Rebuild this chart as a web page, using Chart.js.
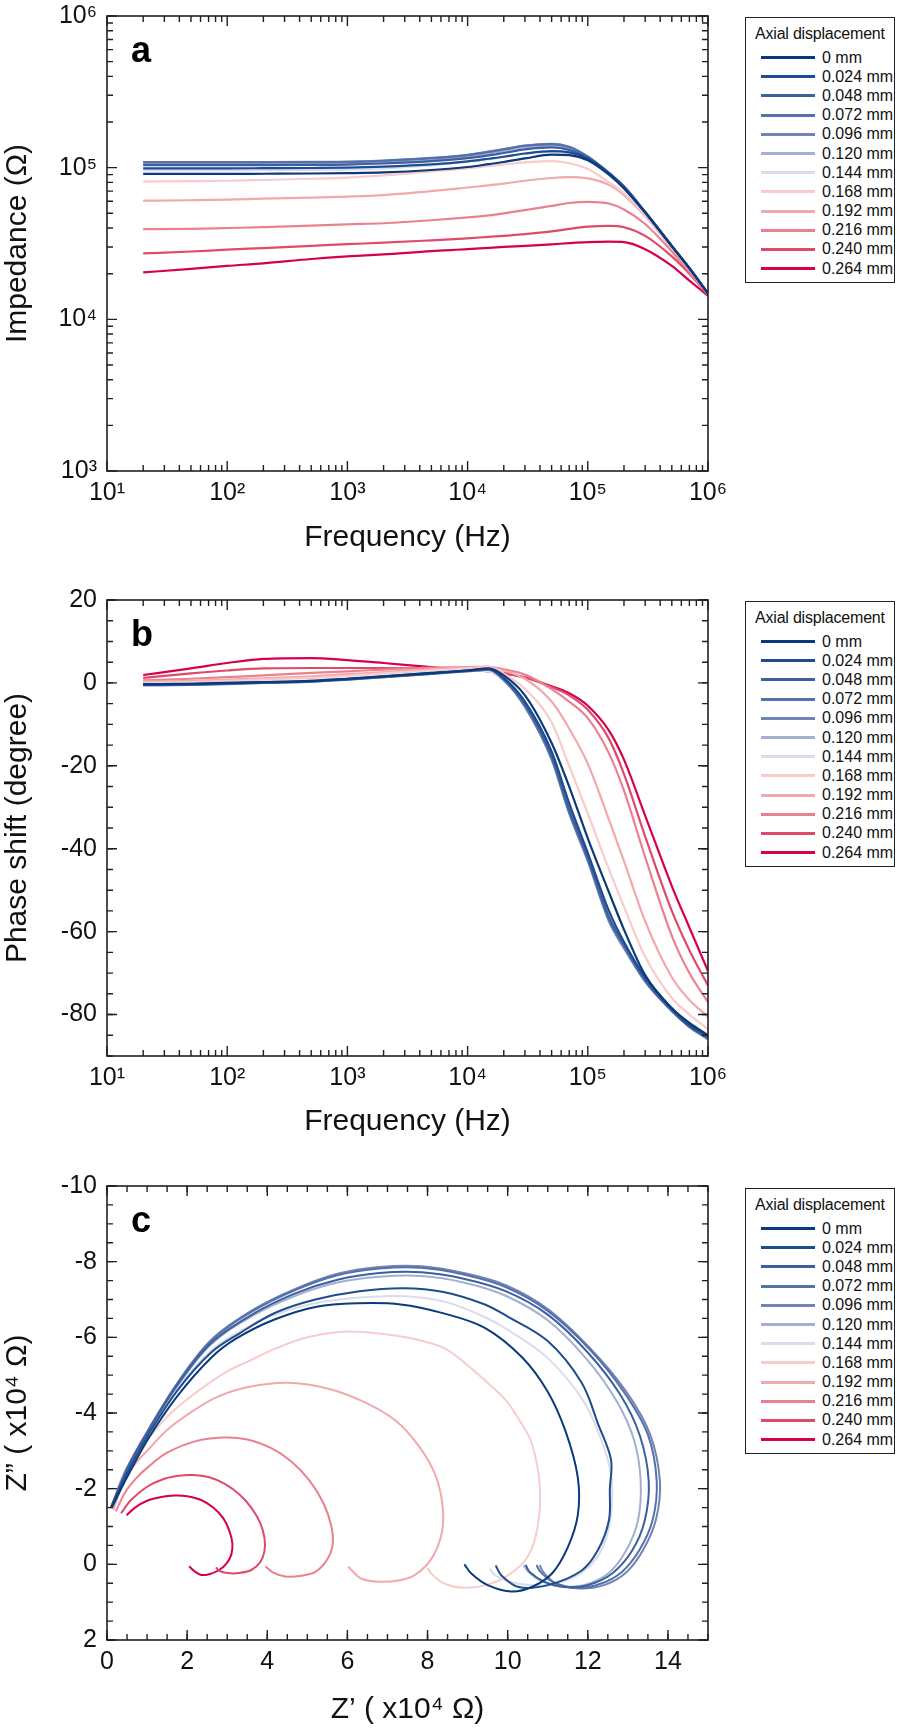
<!DOCTYPE html>
<html>
<head>
<meta charset="utf-8">
<script src="https://cdn.jsdelivr.net/npm/chart.js@4.4.1/dist/chart.umd.min.js"></script>
<style>
  body { margin: 0; background: #fff; font-family: "Liberation Sans", Arial, sans-serif; }
  #page { position: relative; width: 898px; height: 1728px; overflow: hidden; background: #fff; }
  .panel { position: absolute; left: 0; }
  .legend { position: absolute; left: 745px; width: 150px; height: 266px; border: 1px solid #231f20;
            box-sizing: border-box; font-size: 16px; color: #111; background: #fff; }
  .legend .ttl { margin: 7px 0 5px 9px; line-height: 18px; white-space: nowrap; letter-spacing: -0.2px; }
  .legend .row { height: 19.2px; display: flex; align-items: center; padding-left: 15px; white-space: nowrap; }
  .legend .sw { width: 54px; height: 3px; margin-right: 7px; flex: none; }
</style>
</head>
<body>
<div id="page">
  <canvas id="chartA" class="panel" style="top:0px" width="740" height="560"></canvas>
  <canvas id="chartB" class="panel" style="top:584px" width="740" height="560"></canvas>
  <canvas id="chartC" class="panel" style="top:1170px" width="740" height="558"></canvas>
  <div class="legend" id="legendA" style="top:17px"></div>
  <div class="legend" id="legendB" style="top:601px"></div>
  <div class="legend" id="legendC" style="top:1188px"></div>
</div>
<script>
document.addEventListener('DOMContentLoaded', () => {

    // --- data ---
    const labels = ['0 mm', '0.024 mm', '0.048 mm', '0.072 mm', '0.096 mm', '0.120 mm',
                    '0.144 mm', '0.168 mm', '0.192 mm', '0.216 mm', '0.240 mm', '0.264 mm'];
    const colors = ['#0b3a7a', '#1d4d8f', '#3b5f9f', '#5570aa', '#7183b7', '#a3afd0',
                    '#d8dcec', '#f8cccc', '#f2a9ad', '#ea818e', '#df4a6b', '#d6004b'];

    // frequency points (Hz)
    const freq = [20, 50, 100, 200, 500, 1e3, 2e3, 5e3, 1e4, 1.5e4, 2e4, 3e4, 5e4, 7e4,
                  1e5, 1.5e5, 2e5, 3e5, 5e5, 7e5, 1e6];

    // panel a: impedance magnitude, kOhm
    const impedanceK = [
        [90.9, 91, 91, 91.2, 91.5, 92, 93, 96.5, 101, 105.5, 109, 115, 122, 121, 112, 90, 73, 50.5, 30.3, 21.7, 14.8],
        [99, 99, 99, 99.2, 99.5, 100, 101.5, 105, 110, 114.5, 118, 124, 128.5, 126, 115, 92, 74, 50.8, 30.4, 21.7, 14.8],
        [104, 104, 104, 104, 104.3, 104.8, 106.5, 110.5, 115.5, 120.5, 125, 132, 136, 131, 116, 92, 75, 51, 30.5, 21.8, 14.8],
        [108.5, 108.5, 108.5, 108.5, 108.7, 109, 111, 115.5, 121, 127, 132, 139.5, 143, 137, 118, 92, 75, 51, 30.5, 21.8, 14.8],
        [109, 109, 109, 109, 109.2, 109.6, 111.5, 116, 121.5, 127.5, 132.5, 140, 143.5, 137.5, 118.5, 92.5, 75, 51, 30.5, 21.8, 14.8],
        [106, 106, 106, 106, 106.3, 106.8, 108.5, 113, 118.5, 124, 129, 136.5, 139.5, 134, 117, 92, 75, 51, 30.5, 21.8, 14.8],
        [96, 96, 96, 96.2, 96.5, 97.2, 99, 103.5, 109, 113.5, 118, 124, 127, 123, 112, 90, 74, 50.5, 30.4, 21.7, 14.8],
        [81, 81.5, 82, 83, 84.5, 86, 89, 94.5, 99, 102.5, 105, 108.5, 110.5, 107, 98, 80, 68, 49, 30, 21.5, 14.8],
        [60.6, 61, 61.5, 62.5, 63.5, 64.5, 66, 70, 74, 76.5, 78.5, 82, 85.5, 86.5, 85, 77, 66, 48, 29.5, 21.3, 14.7],
        [39.3, 39.5, 40, 40.5, 41.5, 42.3, 43, 45, 47, 48.5, 50, 52.5, 56, 58.5, 59.5, 58, 53, 42.5, 28, 20.5, 14.6],
        [27.2, 28, 28.8, 29.5, 30.5, 31.3, 32, 33.2, 34.2, 35, 35.5, 36.5, 38, 39.5, 40.8, 41.3, 40.5, 35.5, 26, 20, 14.5],
        [20.4, 21.5, 22.5, 23.4, 25, 26, 26.8, 28.2, 29, 29.6, 30, 30.5, 31.2, 31.8, 32.3, 32.5, 32.3, 29, 22.5, 18, 14.3]
    ];

    // panel b: phase shift, degree
    const phase = [
        [-0.3, -0.2, 0, 0.2, 0.5, 1.0, 1.6, 2.4, 3.0, 3.5, 1.8, -3.0, -14.5, -25, -37.5, -50.5, -59.5, -70.5, -78.5, -82, -85],
        [-0.4, -0.3, -0.1, 0.1, 0.4, 0.9, 1.5, 2.3, 3.0, 3.4, 1.2, -4.5, -16.5, -29, -41, -55, -62.5, -71, -78.5, -82.5, -85.3],
        [-0.5, -0.4, -0.1, 0.1, 0.4, 0.9, 1.5, 2.3, 2.9, 3.3, 1.0, -5.0, -17.5, -30.5, -42, -56.5, -63, -71.5, -79, -82.8, -85.5],
        [-0.5, -0.4, -0.2, 0, 0.3, 0.8, 1.4, 2.2, 2.9, 3.2, 0.8, -5.5, -18, -31, -42.5, -57, -63.5, -72, -79, -83, -85.8],
        [-0.6, -0.5, -0.3, 0, 0.3, 0.8, 1.4, 2.2, 2.8, 3.2, 0.7, -5.8, -18.5, -31.5, -43, -57.5, -64, -72, -79.2, -83, -86],
        [-0.3, -0.2, 0, 0.2, 0.5, 1.0, 1.6, 2.4, 3.0, 3.3, 0.9, -5.2, -17.8, -30.5, -42, -56.5, -63, -71.5, -79, -82.8, -85.6],
        [-0.2, -0.1, 0.1, 0.3, 0.6, 1.1, 1.7, 2.5, 3.1, 2.8, 0.5, -5.0, -17, -30, -41.5, -56, -62.5, -71, -78.5, -82.5, -85.2],
        [0, 0.2, 0.5, 0.8, 1.2, 1.7, 2.3, 3.0, 3.5, 3.8, 2.2, -1.5, -9.5, -20, -31.5, -45, -54, -66, -76, -80, -83.5],
        [0.3, 0.5, 0.8, 1.1, 1.6, 2.1, 2.6, 3.3, 3.7, 3.9, 3.0, 1.0, -4.5, -11, -19.5, -33, -43, -57.5, -71, -76.5, -80.5],
        [0.6, 1.0, 1.4, 1.8, 2.4, 2.8, 3.2, 3.7, 3.8, 3.9, 3.3, 2.0, -1.5, -4.5, -8.5, -17, -26, -42, -61, -70, -77],
        [1.2, 2.3, 3.0, 3.5, 3.6, 3.6, 3.6, 3.5, 3.2, 3.0, 2.4, 1.3, -1.0, -3.0, -6.5, -13.5, -22, -37, -55, -64.5, -73],
        [1.9, 3.5, 4.8, 5.8, 6.0, 5.5, 4.8, 3.8, 3.1, 2.8, 2.3, 1.3, -0.8, -2.5, -5.5, -11.5, -18.5, -32, -49, -59, -69.5]
    ];

    // panel c: Nyquist curves, [Z', Z''] in units of 1e4 Ohm
    const nyquist = [
        [[0.12,-1.5],[0.5,-2.3],[1.03,-3.32],[1.76,-4.45],[2.6,-5.46],[3.23,-5.97],[4.18,-6.47],[5.23,-6.81],[6.28,-6.9],[7.33,-6.87],[8.38,-6.64],[9.43,-6.25],[10.37,-5.46],[11.0,-4.56],[11.45,-3.5],[11.75,-2.3],[11.75,-1.3],[11.5,-0.45],[11.1,0.25],[10.6,0.6],[10.1,0.72],[9.5,0.55],[9.1,0.25],[8.92,0.0]],
        [[0.1,-1.5],[0.5,-2.4],[1.03,-3.42],[1.76,-4.6],[2.6,-5.6],[3.3,-6.1],[4.2,-6.65],[5.2,-7.0],[6.3,-7.22],[7.4,-7.3],[8.4,-7.2],[9.4,-6.88],[10.0,-6.55],[11.0,-5.9],[11.84,-4.81],[12.26,-3.7],[12.58,-2.76],[12.55,-2.0],[12.53,-1.18],[12.26,-0.39],[11.84,0.17],[11.0,0.55],[10.27,0.6],[9.85,0.3],[9.7,0.03]],
        [[0.1,-1.5],[0.5,-2.5],[1.03,-3.52],[1.76,-4.75],[2.6,-5.85],[3.65,-6.62],[4.7,-7.16],[5.75,-7.52],[6.8,-7.7],[7.85,-7.72],[8.9,-7.55],[9.95,-7.22],[11.0,-6.6],[12.0,-5.6],[12.8,-4.5],[13.3,-3.4],[13.52,-2.2],[13.42,-1.15],[13.1,-0.35],[12.6,0.25],[12.0,0.55],[11.4,0.6],[10.9,0.45],[10.55,0.2],[10.45,0.02]],
        [[0.1,-1.5],[0.5,-2.53],[1.03,-3.54],[1.76,-4.78],[2.6,-5.91],[3.65,-6.7],[4.7,-7.25],[5.75,-7.64],[6.8,-7.82],[7.85,-7.84],[8.9,-7.66],[9.95,-7.33],[11.0,-6.7],[12.05,-5.68],[12.9,-4.56],[13.5,-3.43],[13.72,-2.2],[13.62,-1.18],[13.3,-0.4],[12.85,0.2],[12.3,0.52],[11.7,0.62],[11.15,0.48],[10.82,0.2],[10.72,0.02]],
        [[0.1,-1.5],[0.5,-2.55],[1.03,-3.56],[1.76,-4.8],[2.6,-5.93],[3.65,-6.73],[4.7,-7.28],[5.75,-7.68],[6.8,-7.86],[7.85,-7.88],[8.9,-7.7],[9.95,-7.38],[11.0,-6.75],[12.05,-5.72],[12.95,-4.58],[13.55,-3.45],[13.8,-2.2],[13.7,-1.18],[13.38,-0.38],[12.95,0.22],[12.4,0.55],[11.8,0.64],[11.2,0.5],[10.9,0.22],[10.8,0.02]],
        [[0.1,-1.5],[0.5,-2.5],[1.03,-3.5],[1.76,-4.72],[2.6,-5.82],[3.65,-6.58],[4.7,-7.1],[5.75,-7.45],[6.8,-7.6],[7.85,-7.62],[8.9,-7.45],[9.95,-7.1],[11.0,-6.45],[11.95,-5.45],[12.7,-4.35],[13.15,-3.3],[13.32,-2.2],[13.25,-1.15],[12.95,-0.35],[12.5,0.25],[11.9,0.55],[11.3,0.58],[10.8,0.42],[10.5,0.18],[10.4,0.02]],
        [[0.1,-1.5],[0.5,-2.45],[1.03,-3.45],[1.76,-4.65],[2.6,-5.65],[3.3,-6.15],[4.2,-6.6],[5.2,-6.9],[6.3,-7.05],[7.3,-7.09],[8.4,-6.95],[9.4,-6.55],[10.0,-6.2],[11.0,-5.45],[11.9,-4.3],[12.4,-3.1],[12.6,-2.2],[12.55,-1.1],[12.3,-0.3],[11.8,0.25],[11.0,0.55],[10.2,0.5],[9.7,0.3],[9.55,0.12]],
        [[0.12,-1.46],[0.35,-2.25],[0.65,-2.85],[1.0,-3.3],[1.6,-4.0],[2.3,-4.6],[3.0,-5.1],[3.5,-5.35],[4.2,-5.7],[5.0,-6.0],[5.9,-6.15],[6.8,-6.1],[7.7,-5.95],[8.4,-5.72],[8.9,-5.35],[9.5,-4.8],[9.95,-4.34],[10.3,-3.8],[10.6,-3.2],[10.8,-2.1],[10.75,-1.0],[10.5,-0.2],[10.0,0.3],[9.45,0.55],[8.9,0.62],[8.4,0.5],[8.1,0.25],[8.0,0.1]],
        [[0.16,-1.44],[0.4,-2.15],[0.7,-2.65],[1.0,-3.0],[1.5,-3.55],[2.0,-3.95],[2.7,-4.4],[3.5,-4.68],[4.5,-4.8],[5.5,-4.65],[6.4,-4.3],[7.2,-3.8],[7.8,-3.1],[8.2,-2.35],[8.38,-1.5],[8.35,-0.8],[8.1,-0.15],[7.7,0.27],[7.3,0.42],[6.8,0.46],[6.35,0.38],[6.1,0.15],[6.02,0.06]],
        [[0.22,-1.4],[0.45,-1.9],[0.75,-2.3],[1.0,-2.55],[1.5,-2.95],[2.2,-3.25],[2.9,-3.35],[3.5,-3.3],[4.1,-3.07],[4.6,-2.72],[5.05,-2.22],[5.4,-1.62],[5.6,-1.0],[5.63,-0.5],[5.48,-0.1],[5.2,0.2],[4.85,0.3],[4.45,0.32],[4.15,0.22],[3.95,0.05]],
        [[0.35,-1.35],[0.6,-1.7],[1.0,-2.05],[1.4,-2.25],[1.8,-2.34],[2.1,-2.36],[2.55,-2.3],[2.95,-2.12],[3.3,-1.85],[3.6,-1.5],[3.82,-1.1],[3.93,-0.7],[3.93,-0.35],[3.82,-0.05],[3.6,0.15],[3.3,0.23],[3.0,0.23],[2.8,0.17],[2.72,0.08]],
        [[0.49,-1.3],[0.7,-1.5],[1.0,-1.68],[1.35,-1.78],[1.68,-1.82],[2.0,-1.8],[2.35,-1.7],[2.65,-1.5],[2.9,-1.22],[3.05,-0.9],[3.13,-0.55],[3.1,-0.25],[2.98,-0.02],[2.8,0.15],[2.55,0.26],[2.35,0.28],[2.18,0.18],[2.05,0.05]]
    ];

    // tick labels
    const freqTicks = [1e1, 1e2, 1e3, 1e4, 1e5, 1e6];
    const impTicks = [1e3, 1e4, 1e5, 1e6];
    const phaseTicks = [20, 0, -20, -40, -60, -80];
    const reTicks = [0, 2, 4, 6, 8, 10, 12, 14];
    const imTicks = [-10, -8, -6, -4, -2, 0, 2];

    // --- helpers ---
    const FONT = '"Liberation Sans", Arial, sans-serif';
    const INK = '#231f20';
    const SUP = { 1: '\u00b9', 2: '\u00b2', 3: '\u00b3', 4: '\u2074', 5: '\u2075', 6: '\u2076' };
    const pow10 = v => '10' + SUP[Math.round(Math.log10(v))];

    function logMinor(lo, hi) {
        const out = [];
        for (let e = lo; e < hi; e++) for (let m = 2; m <= 9; m++) out.push(m * Math.pow(10, e));
        return out;
    }
    function linSteps(lo, hi, step) {
        const out = [];
        for (let v = lo; v <= hi + 1e-9; v += step) out.push(+v.toFixed(3));
        return out;
    }

    // frame + inward ticks on all four sides + panel letter
    const framePlugin = {
        id: 'frame',
        afterDraw(chart, args, opts) {
            const { ctx, chartArea: a } = chart;
            const xs = chart.scales.x, ys = chart.scales.y;
            ctx.save();
            ctx.strokeStyle = INK;
            ctx.lineWidth = 1.6;
            ctx.strokeRect(a.left, a.top, a.right - a.left, a.bottom - a.top);
            ctx.lineWidth = 1.4;
            const marks = (scale, values, len) => {
                ctx.beginPath();
                values.forEach(v => {
                    const p = scale.getPixelForValue(v);
                    if (scale.isHorizontal()) {
                        if (p < a.left - 0.5 || p > a.right + 0.5) return;
                        ctx.moveTo(p, a.bottom); ctx.lineTo(p, a.bottom - len);
                        ctx.moveTo(p, a.top); ctx.lineTo(p, a.top + len);
                    } else {
                        if (p < a.top - 0.5 || p > a.bottom + 0.5) return;
                        ctx.moveTo(a.left, p); ctx.lineTo(a.left + len, p);
                        ctx.moveTo(a.right, p); ctx.lineTo(a.right - len, p);
                    }
                });
                ctx.stroke();
            };
            marks(xs, opts.xMajor, 10);
            marks(xs, opts.xMinor, 6);
            marks(ys, opts.yMajor, 10);
            marks(ys, opts.yMinor, 6);
            ctx.fillStyle = '#000';
            ctx.font = 'bold 36px ' + FONT;
            ctx.textAlign = 'left';
            ctx.textBaseline = 'alphabetic';
            ctx.fillText(opts.letter, a.left + 24, a.top + 46);
            ctx.restore();
        }
    };

    function axis(o) {
        return {
            type: o.type, min: o.min, max: o.max, reverse: !!o.reverse, position: o.position,
            grid: { display: false, drawTicks: false },
            border: { display: false },
            afterBuildTicks: s => { s.ticks = o.ticks.map(v => ({ value: v })); },
            afterFit: o.afterFit,
            ticks: {
                autoSkip: false, maxRotation: 0, minRotation: 0, padding: o.pad,
                color: '#111', font: { family: FONT, size: 25 }, callback: o.fmt
            },
            title: { display: true, text: o.title, color: '#111', font: { family: FONT, size: 30 }, padding: o.titlePad }
        };
    }

    const fitX = h => s => { s.height = h; s.paddingLeft = 0; s.paddingRight = 0; };
    const fitY = s => { s.width = 107; s.paddingTop = 0; s.paddingBottom = 0; };

    function makeChart(id, datasets, xAxis, yAxis, frame) {
        return new Chart(document.getElementById(id), {
            type: 'scatter',
            data: { datasets },
            options: {
                responsive: false,
                animation: false,
                layout: { padding: { top: 16, right: 32, left: 0, bottom: 0 } },
                plugins: { legend: { display: false }, tooltip: { enabled: false }, frame },
                scales: { x: xAxis, y: yAxis }
            },
            plugins: [framePlugin]
        });
    }

    const lineStyle = (i, width) => ({
        label: labels[i], showLine: true, borderColor: colors[i], backgroundColor: colors[i],
        borderWidth: width, pointRadius: 0, fill: false
    });

    // --- a: impedance ---
    window.chartA = makeChart('chartA',
        impedanceK.map((row, i) => Object.assign(lineStyle(i, 2.2), {
            data: freq.map((f, k) => ({ x: f, y: row[k] * 1000 })),
            cubicInterpolationMode: 'monotone'
        })),
        axis({ type: 'logarithmic', min: 10, max: 1e6, position: 'bottom', ticks: freqTicks, fmt: pow10,
               pad: 7, title: 'Frequency (Hz)', titlePad: { top: 0, bottom: 4 }, afterFit: fitX(89) }),
        axis({ type: 'logarithmic', min: 1e3, max: 1e6, position: 'left', ticks: impTicks, fmt: pow10,
               pad: 10, title: 'Impedance (\u03a9)', titlePad: { top: 0, bottom: 0 }, afterFit: fitY }),
        { letter: 'a', xMajor: freqTicks, xMinor: logMinor(1, 6), yMajor: impTicks, yMinor: logMinor(3, 6) }
    );

    // --- b: phase shift ---
    window.chartB = makeChart('chartB',
        phase.map((row, i) => Object.assign(lineStyle(i, 2.2), {
            data: freq.map((f, k) => ({ x: f, y: row[k] })),
            cubicInterpolationMode: 'monotone'
        })),
        axis({ type: 'logarithmic', min: 10, max: 1e6, position: 'bottom', ticks: freqTicks, fmt: pow10,
               pad: 7, title: 'Frequency (Hz)', titlePad: { top: 0, bottom: 4 }, afterFit: fitX(88) }),
        axis({ type: 'linear', min: -90, max: 20, position: 'left', ticks: phaseTicks, fmt: v => String(v),
               pad: 10, title: 'Phase shift (degree)', titlePad: { top: 0, bottom: 0 }, afterFit: fitY }),
        { letter: 'b', xMajor: freqTicks, xMinor: logMinor(1, 6), yMajor: phaseTicks, yMinor: linSteps(-90, 20, 5) }
    );

    // --- c: Nyquist ---
    window.chartC = makeChart('chartC',
        nyquist.map((pts, i) => Object.assign(lineStyle(i, 2.0), {
            data: pts.map(p => ({ x: p[0], y: p[1] })),
            tension: 0.35
        })),
        axis({ type: 'linear', min: 0, max: 15, position: 'bottom', ticks: reTicks, fmt: v => String(v),
               pad: 7, title: 'Z\u2019 ( x10\u2074 \u03a9)', titlePad: { top: 0, bottom: 0 }, afterFit: fitX(88) }),
        axis({ type: 'linear', min: -10, max: 2, reverse: true, position: 'left', ticks: imTicks, fmt: v => String(v),
               pad: 10, title: 'Z\u201d ( x10\u2074 \u03a9)', titlePad: { top: 0, bottom: 0 }, afterFit: fitY }),
        { letter: 'c', xMajor: reTicks, xMinor: linSteps(0, 15, 0.5), yMajor: imTicks, yMinor: linSteps(-10, 2, 0.5) }
    );

    // --- legends (same entries for each panel) ---
    ['legendA', 'legendB', 'legendC'].forEach(id => {
        const box = document.getElementById(id);
        let html = '<div class="ttl">Axial displacement</div>';
        labels.forEach((lab, i) => {
            html += `<div class="row"><span class="sw" style="background:${colors[i]}"></span><span>${lab}</span></div>`;
        });
        box.innerHTML = html;
    });
});
</script>
</body>
</html>
